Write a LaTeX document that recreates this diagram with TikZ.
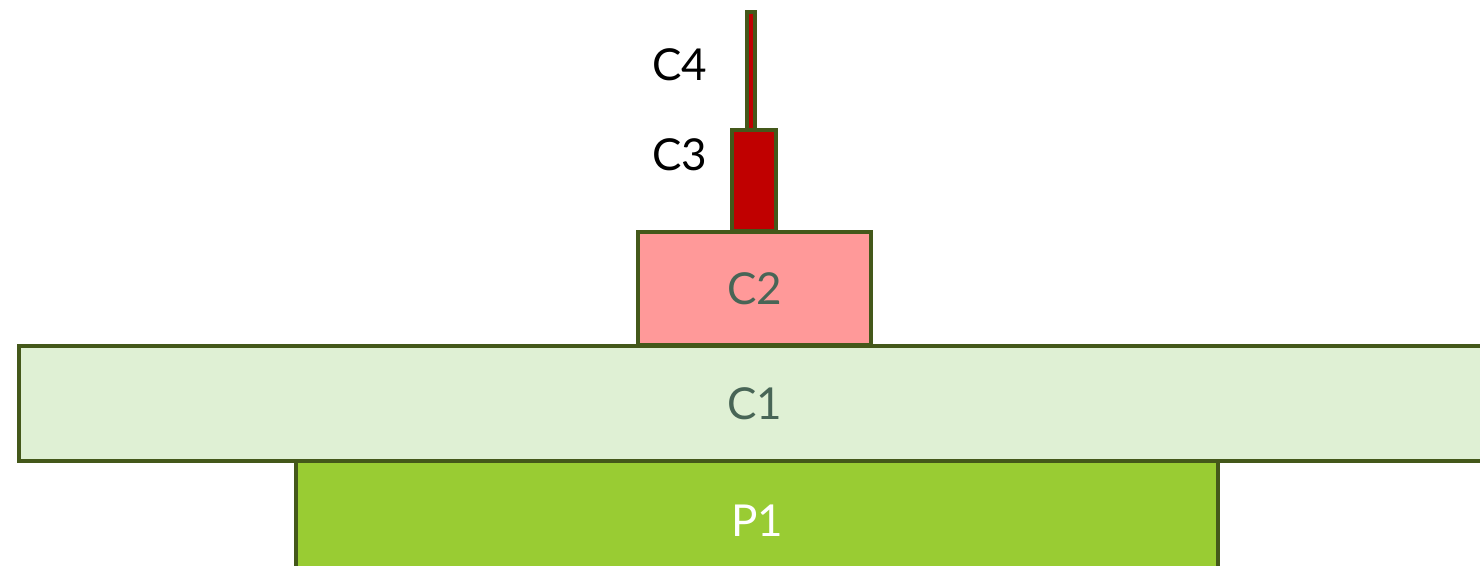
\documentclass[tikz,border=0pt]{standalone}
\usepackage{fontspec}
\setmainfont{Lato}
\definecolor{edge}{HTML}{44581A}
\definecolor{cone}{HTML}{DFF0D4}
\definecolor{ctwo}{HTML}{FF9999}
\definecolor{cred}{HTML}{C00000}
\definecolor{pone}{HTML}{99CC33}
\definecolor{lbl}{HTML}{486556}
\begin{document}
\begin{tikzpicture}[x=1pt,y=1pt,
  layer/.style={draw=edge, line width=4pt, rectangle, inner sep=0pt, outer sep=0pt,
    font=\fontsize{44}{50}\selectfont},
  sidelabel/.style={font=\fontsize{44}{50}\selectfont, text=black, inner sep=0pt}]
\useasboundingbox (0,0) rectangle (1480,565);
\clip (0,0) rectangle (1480,565);
\node[layer, fill=pone, text=white, minimum width=922pt, minimum height=119pt] (p1) at (757,44.5) {P1};
\node[layer, fill=cone, text=lbl, minimum width=1471pt, minimum height=115pt] (c1) at (754.5,161.5) {C1};
\node[layer, fill=ctwo, text=lbl, minimum width=233pt, minimum height=113pt] (c2) at (754.5,276.5) {C2};
\node[layer, fill=cred, minimum width=44pt, minimum height=101pt] (c3) at (754,384.5) {};
\node[layer, fill=cred, minimum width=8pt, minimum height=118pt] (c4) at (751,494) {};
\node[sidelabel] (l3) at (680,410) {C3};
\node[sidelabel] (l4) at (680,500) {C4};
\end{tikzpicture}
\end{document}
